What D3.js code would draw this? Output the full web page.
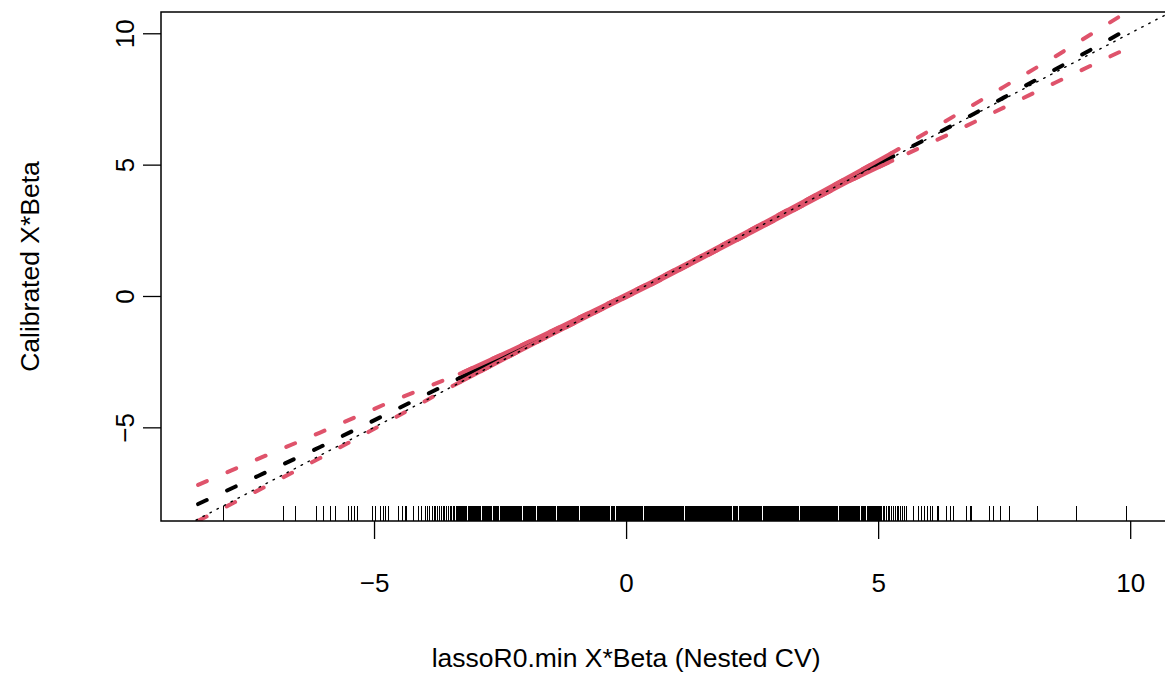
<!DOCTYPE html>
<html>
<head>
<meta charset="utf-8">
<script src="https://cdn.jsdelivr.net/npm/d3@7"></script>
<style>
body { margin: 0; background: #fff; }
svg text { font-family: "Liberation Sans", Arial, sans-serif; }
</style>
</head>
<body>
<div id="chart"></div>
<script>
//----------------------------DATA-------------------------------//
// calibration curve and its limits
const calX     = [-8.49, -7.3, -6.07, -4.7, -3.3, -2.5, -1.5, -0.5, 0.5, 1.5, 2.5, 3.5, 4.5, 5.28, 6.5, 7.5, 8.5, 9.9];
const calFit   = [-7.92, -6.85, -5.75, -4.45, -3.12, -2.37, -1.42, -0.47, 0.48, 1.48, 2.49, 3.51, 4.53, 5.30, 6.52, 7.56, 8.61, 10.10];
const calUpper = [-7.19, -6.20, -5.20, -4.05, -2.96, -2.26, -1.35, -0.42, 0.53, 1.53, 2.55, 3.58, 4.62, 5.45, 6.84, 7.97, 9.10, 10.77];
const calLower = [-8.56, -7.40, -6.17, -4.75, -3.28, -2.48, -1.49, -0.52, 0.43, 1.43, 2.43, 3.44, 4.44, 5.15, 6.24, 7.18, 8.11, 9.39];
// range where the curve is drawn solid
const solidFrom = -3.3;
const solidTo = 5.28;

const xTicks = [-5, 0, 5, 10];
const yTicks = [-5, 0, 5, 10];
const xLabel = "lassoR0.min X*Beta (Nested CV)";
const yLabel = "Calibrated X*Beta";

// rug of predicted values (the middle is nearly solid in the picture)
const rugX = [
  -7.99, -6.80, -6.55, -6.15, -6.01, -5.87, -5.76, -5.50, -5.44, -5.38, -5.32, -5.03, -4.97, -4.88,
  -4.82, -4.78, -4.72, -4.52, -4.44, -4.38, -4.35, -4.22, -4.12, -4.05,
  -3.97, -3.93, -3.90, -3.85, -3.81, -3.78, -3.74, -3.70, -3.67, -3.63, -3.60, -3.56, -3.53, -3.49,
  -3.46, -3.43, -3.40, -3.37, -3.34, -3.32,
  -3.30, -3.28, -3.26, -3.24, -3.22, -3.20, -3.18, -3.16, -3.12, -3.10,
  -3.08, -3.06, -3.04, -3.02, -3.00, -2.98, -2.96, -2.94, -2.92, -2.90,
  -2.88, -2.84, -2.82, -2.80, -2.78, -2.76, -2.74, -2.72, -2.70,
  -2.68, -2.66, -2.64, -2.62, -2.60, -2.58, -2.56, -2.54, -2.50,
  -2.48, -2.46, -2.44, -2.42, -2.40, -2.38, -2.36, -2.34, -2.32, -2.30,
  -2.28, -2.26, -2.24, -2.22, -2.20, -2.18, -2.16, -2.14, -2.12, -2.10,
  -2.08, -2.04, -2.02, -2.00,
  -1.98, -1.96, -1.94, -1.92, -1.90, -1.88, -1.86, -1.84, -1.82, -1.80,
  -1.76, -1.74, -1.72, -1.70, -1.68, -1.66, -1.64, -1.62, -1.60,
  -1.58, -1.56, -1.54, -1.52, -1.50, -1.48, -1.46, -1.44, -1.42, -1.40,
  -1.36, -1.34, -1.32, -1.30, -1.28, -1.26, -1.24, -1.22, -1.20,
  -1.18, -1.16, -1.14, -1.12, -1.10, -1.08, -1.06, -1.04, -1.02, -1.00,
  -0.98, -0.96, -0.94, -0.90, -0.88, -0.86, -0.84, -0.82, -0.80,
  -0.78, -0.76, -0.74, -0.72, -0.70, -0.68, -0.66, -0.64, -0.62, -0.60,
  -0.58, -0.56, -0.54, -0.52, -0.50, -0.48, -0.46, -0.44, -0.42, -0.40,
  -0.38, -0.36, -0.34, -0.32, -0.28, -0.26, -0.24, -0.22, -0.20,
  -0.18, -0.16, -0.14, -0.12, -0.10, -0.08, -0.06, -0.04, -0.02,
  0.00, 0.02, 0.04, 0.06, 0.08, 0.10, 0.12, 0.14, 0.16, 0.18,
  0.20, 0.22, 0.24, 0.26, 0.28, 0.30, 0.32, 0.36, 0.38,
  0.40, 0.42, 0.44, 0.46, 0.48, 0.50, 0.52, 0.54, 0.56, 0.58,
  0.60, 0.62, 0.64, 0.66, 0.68, 0.70, 0.72, 0.74, 0.76, 0.78,
  0.80, 0.82, 0.84, 0.86, 0.88, 0.90, 0.92, 0.94, 0.96, 0.98,
  1.00, 1.02, 1.04, 1.06, 1.08, 1.10, 1.12, 1.14, 1.18,
  1.20, 1.22, 1.24, 1.26, 1.28, 1.30, 1.32, 1.34, 1.36, 1.38,
  1.40, 1.42, 1.44, 1.46, 1.48, 1.50, 1.52, 1.54, 1.56, 1.58,
  1.60, 1.62, 1.64, 1.66, 1.68, 1.70, 1.72, 1.74, 1.76, 1.78,
  1.80, 1.82, 1.84, 1.86, 1.88, 1.90, 1.92, 1.94, 1.96, 1.98,
  2.00, 2.02, 2.04, 2.06, 2.08, 2.10, 2.14, 2.16, 2.18,
  2.20, 2.22, 2.24, 2.26, 2.28, 2.30, 2.32, 2.34, 2.36, 2.38,
  2.40, 2.42, 2.44, 2.46, 2.48, 2.50, 2.52, 2.54, 2.56, 2.58,
  2.60, 2.62, 2.64, 2.66, 2.68, 2.72, 2.74, 2.76, 2.78,
  2.80, 2.82, 2.84, 2.86, 2.88, 2.90, 2.92, 2.94, 2.96, 2.98,
  3.00, 3.02, 3.04, 3.06, 3.08, 3.10, 3.12, 3.14, 3.16, 3.18,
  3.20, 3.22, 3.24, 3.26, 3.28, 3.30, 3.32, 3.34, 3.36, 3.38,
  3.40, 3.42, 3.46, 3.48, 3.50, 3.52, 3.54, 3.56, 3.58,
  3.60, 3.62, 3.64, 3.66, 3.68, 3.70, 3.72, 3.74, 3.76, 3.78,
  3.80, 3.82, 3.84, 3.86, 3.88, 3.90, 3.92, 3.94, 3.96, 3.98,
  4.00, 4.02, 4.04, 4.06, 4.08, 4.10, 4.12, 4.14, 4.16, 4.18,
  4.20, 4.24, 4.26, 4.28, 4.30, 4.32, 4.34, 4.36, 4.38,
  4.40, 4.42, 4.44, 4.46, 4.48, 4.50, 4.52, 4.54, 4.56, 4.58,
  4.60, 4.62, 4.64, 4.66, 4.68, 4.70, 4.72, 4.74, 4.78,
  4.80, 4.82, 4.84, 4.86, 4.88, 4.90, 4.92, 4.94, 4.96, 4.98,
  5.00, 5.02, 5.04,
  5.07, 5.10, 5.13, 5.17, 5.20, 5.23, 5.27, 5.30, 5.34, 5.38, 5.41, 5.45, 5.49, 5.52,
  5.57, 5.71, 5.80, 5.87, 5.91, 5.97, 6.03, 6.08, 6.18, 6.19, 6.36, 6.43, 6.49, 6.76, 6.83, 6.86,
  7.20, 7.29, 7.42, 7.60, 8.16, 8.94, 9.92
];

//-----------------------------SVG-------------------------------//
const width = 1165;
const height = 675;
const plot = { left: 161, right: 1168, top: 12, bottom: 521 };
const red = "#DF536B";

const svg = d3.select("#chart").append("svg")
    .attr("width", width)
    .attr("height", height);

//----------------------------SCALES-----------------------------//
const xScale = d3.scaleLinear().domain([-9.226, 10.75]).range([plot.left, plot.right]);
const yScale = d3.scaleLinear().domain([-8.565, 10.81]).range([plot.bottom, plot.top]);

const rows = calX.map((x, i) => ({ x: x, fit: calFit[i], lo: calLower[i], hi: calUpper[i] }));
const solidRows = rows.filter(d => d.x >= solidFrom && d.x <= solidTo);

const lineOf = key => d3.line().x(d => xScale(d.x)).y(d => yScale(d[key]));

svg.append("clipPath").attr("id", "clip")
  .append("rect")
    .attr("x", plot.left).attr("y", plot.top)
    .attr("width", plot.right - plot.left).attr("height", plot.bottom - plot.top);

const g = svg.append("g").attr("clip-path", "url(#clip)");

//-----------------------------RUG-------------------------------//
g.selectAll(".rug").data(rugX).enter().append("line")
    .attr("class", "rug")
    .attr("x1", d => xScale(d)).attr("x2", d => xScale(d))
    .attr("y1", plot.bottom).attr("y2", plot.bottom - 15)
    .attr("stroke", "#000").attr("stroke-width", 1)
    .attr("shape-rendering", "crispEdges");

//----------------------------LINES------------------------------//
const dash = "9.5,22.5";
[["fit", "#000"], ["hi", red], ["lo", red]].forEach(function(p) {
  g.append("path")
    .datum(rows)
    .attr("fill", "none")
    .attr("stroke", p[1])
    .attr("stroke-width", 4)
    .attr("stroke-linecap", "round")
    .attr("stroke-dasharray", dash)
    .attr("d", lineOf(p[0]));
});

g.append("path")
  .datum(solidRows)
  .attr("fill", "none").attr("stroke", "#000").attr("stroke-width", 4)
  .attr("stroke-linecap", "round")
  .attr("d", lineOf("fit"));

["hi", "lo"].forEach(function(k) {
  g.append("path")
    .datum(solidRows)
    .attr("fill", "none").attr("stroke", red).attr("stroke-width", 4)
    .attr("stroke-linecap", "round")
    .attr("d", lineOf(k));
});

// identity line
const dom = xScale.domain();
g.append("path")
  .datum(dom)
  .attr("fill", "none").attr("stroke", "#000").attr("stroke-width", 1.4)
  .attr("stroke-linecap", "round")
  .attr("stroke-dasharray", "1.5,6.4")
  .attr("d", d3.line().x(d => xScale(d)).y(d => yScale(d)));

//-----------------------------AXES------------------------------//
const fmt = d => d < 0 ? "\u2212" + Math.abs(d) : String(d);

const xAxis = svg.append("g")
    .attr("transform", "translate(0," + plot.bottom + ")")
    .call(d3.axisBottom(xScale).tickValues(xTicks).tickFormat(fmt).tickSize(18).tickSizeOuter(0));
xAxis.select(".domain").remove();
xAxis.selectAll("text")
    .attr("y", 71).attr("dy", 0)
    .style("font-size", "26px").attr("fill", "#000");

const yAxis = svg.append("g")
    .attr("transform", "translate(" + plot.left + ",0)")
    .call(d3.axisLeft(yScale).tickValues(yTicks).tickFormat(fmt).tickSize(18).tickSizeOuter(0));
yAxis.select(".domain").remove();
yAxis.selectAll("text")
    .attr("x", 0).attr("y", 0).attr("dy", 0)
    .attr("text-anchor", "middle")
    .attr("transform", "translate(-27,0) rotate(-90)")
    .style("font-size", "26px").attr("fill", "#000");
svg.selectAll(".tick line").attr("stroke-width", 1.3);

// box
svg.append("rect")
    .attr("x", plot.left).attr("y", plot.top)
    .attr("width", plot.right - plot.left).attr("height", plot.bottom - plot.top)
    .attr("fill", "none").attr("stroke", "#000").attr("stroke-width", 1.5);

// axis titles
svg.append("text")
    .attr("x", xScale(0)).attr("y", 667)
    .attr("text-anchor", "middle")
    .style("font-size", "26.5px")
    .text(xLabel);

svg.append("text")
    .attr("transform", "translate(39," + (plot.top + plot.bottom) / 2 + ") rotate(-90)")
    .attr("text-anchor", "middle")
    .style("font-size", "26.5px")
    .text(yLabel);
</script>
</body>
</html>
